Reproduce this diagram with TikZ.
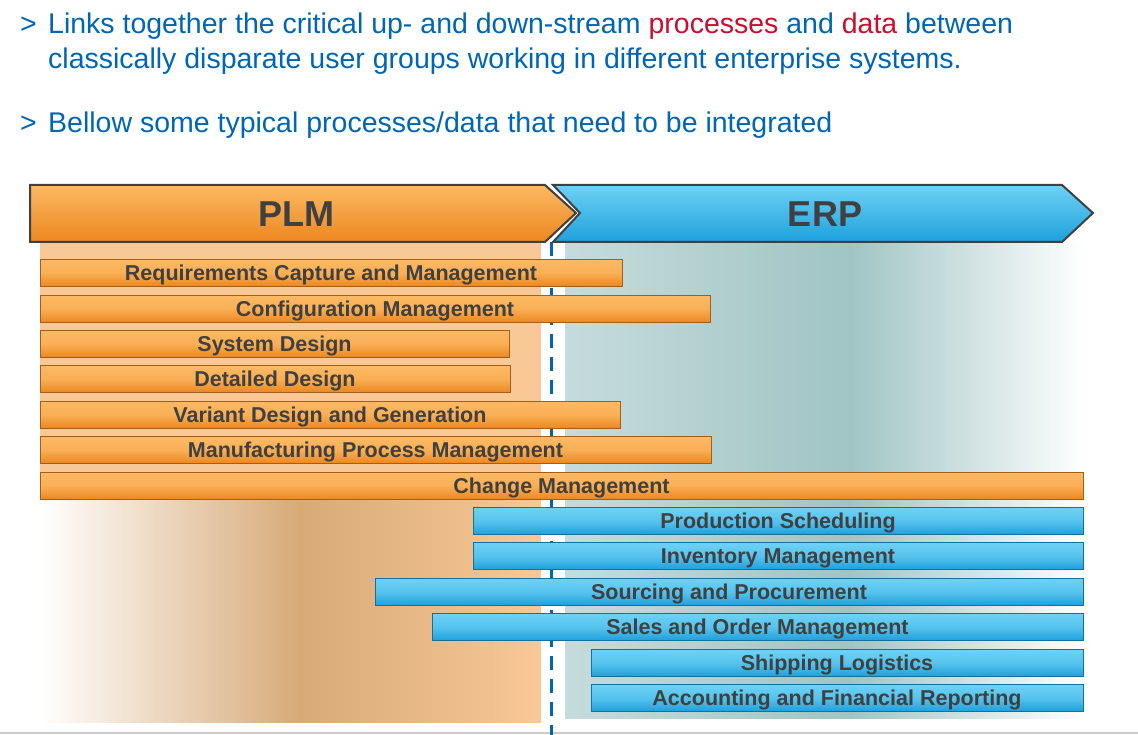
\documentclass[tikz,border=0pt]{standalone}
\usepackage{fontspec}
\setmainfont{Liberation Sans}
\usetikzlibrary{shapes.geometric}
\definecolor{tblue}{RGB}{0,102,179}
\definecolor{tred}{RGB}{200,16,46}
\definecolor{bartext}{RGB}{64,64,64}
\definecolor{orA}{RGB}{252,185,100}
\definecolor{orB}{RGB}{236,135,30}
\definecolor{blA}{RGB}{110,210,245}
\definecolor{blB}{RGB}{30,160,220}
\definecolor{tealbg}{RGB}{160,196,196}
\definecolor{tanbg}{RGB}{215,170,120}
\definecolor{lorbg}{RGB}{248,200,150}
\tikzset{
 ttext/.style={anchor=base west,text=tblue,font=\fontsize{28.5}{32}\selectfont,inner sep=0},
 obar/.style={draw=orB!70!black,line width=0.8pt,top color=orA,bottom color=orB,middle color=orA!80!orB},
 bbar/.style={draw=blB!70!black,line width=0.8pt,top color=blA,bottom color=blB,middle color=blA!70!blB},
 blabel/.style={text=bartext,font=\bfseries\fontsize{21.5}{24}\selectfont,inner sep=0}
}
\begin{document}
\begin{tikzpicture}[x=1pt,y=-1pt]
\useasboundingbox (0,0) rectangle (1138,735);
\fill[white] (0,0) rectangle (1138,735);
% backgrounds
\fill[lorbg] (40,243) rectangle (541,490);
\shade[left color=white,right color=tanbg] (40,490) rectangle (300,722);
\shade[left color=tanbg,right color=lorbg] (300,490) rectangle (541,722);
\shade[left color=tealbg!60,right color=tealbg] (565,243) rectangle (850,718);
\shade[left color=tealbg,right color=white] (850,243) rectangle (1085,718);
% lines
\draw[gray!40,line width=2pt] (0,733) -- (1138,733);
\coordinate (d1) at (551,242); \coordinate (d2) at (551,735);
\draw[tblue,line width=3pt,dash pattern=on 14pt off 9pt] (d1) -- (d2);
% texts
\node[ttext] (g1) at (20,34) {>};
\node[ttext] (t1) at (48,34) {Links together the critical up- and down-stream \textcolor{tred}{processes} and \textcolor{tred}{data} between};
\node[ttext] (t2) at (48,69) {classically disparate user groups working in different enterprise systems.};
\node[ttext] (g2) at (20,133) {>};
\node[ttext] (t3) at (48,133) {Bellow some typical processes/data that need to be integrated};
% arrows
\shade[top color=blA,bottom color=blB,draw=black!75,line width=2pt] (553,185) -- (1062,185) -- (1093,213) -- (1062,242) -- (553,242) -- (580,213) -- cycle;
\shade[top color=orA,bottom color=orB,draw=black!75,line width=2pt] (30,185) -- (545,185) -- (576,213) -- (545,242) -- (30,242) -- cycle;
\node[text=bartext,font=\bfseries\fontsize{36}{40}\selectfont] (plm) at (296,214) {PLM};
\node[text=bartext,font=\bfseries\fontsize{36}{40}\selectfont] (erp) at (825,214) {ERP};
% bars
\foreach \xa/\xb/\yc/\t/\s in {
40/622/273/Requirements Capture and Management/obar,
40/710/309/Configuration Management/obar,
40/509/344/System Design/obar,
40/510/379/Detailed Design/obar,
40/620/415/Variant Design and Generation/obar,
40/711/450/Manufacturing Process Management/obar,
40/1083/486/Change Management/obar,
473/1083/521/Production Scheduling/bbar,
473/1083/556/Inventory Management/bbar,
375/1083/592/Sourcing and Procurement/bbar,
432/1083/627/Sales and Order Management/bbar,
591/1083/663/Shipping Logistics/bbar,
591/1083/698/Accounting and Financial Reporting/bbar}{
 \draw[\s] (\xa,\yc-13.5) rectangle (\xb,\yc+13.5);
 \node[blabel] at ({(\xa+\xb)/2},\yc+2) {\t};
}
\end{tikzpicture}
\end{document}
